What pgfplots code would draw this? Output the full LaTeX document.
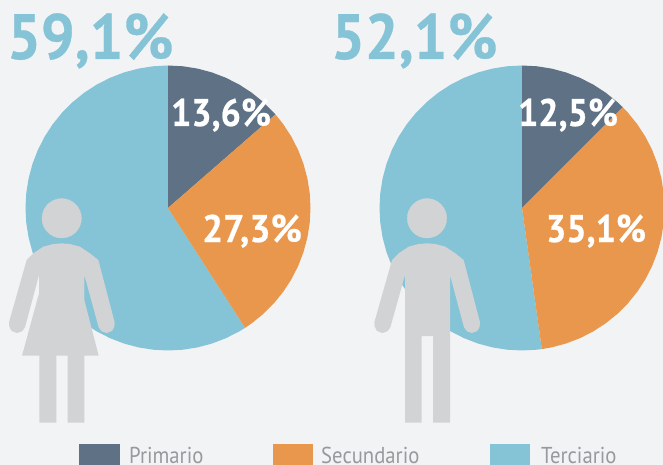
\documentclass[border=0pt]{standalone}
\usepackage{fontspec}
\setmainfont{PT Sans}
\newfontfamily\bigcond[FakeStretch=0.93,FakeBold=0.5]{PT Sans}
\newfontfamily\labcond[FakeStretch=0.93,FakeBold=0.5]{PT Sans}
\newfontfamily\labwide[FakeStretch=0.97,FakeBold=0.5]{PT Sans}
\newfontfamily\legcond[FakeStretch=0.9]{PT Sans}
\usepackage{pgfplots}
\usepackage{pgfplotstable}
\pgfplotsset{compat=1.18}
\definecolor{bg}{HTML}{F2F3F5}
\definecolor{prim}{HTML}{5F7285}
\definecolor{sec}{HTML}{E9974C}
\definecolor{ter}{HTML}{85C3D7}
\definecolor{fig}{HTML}{D1D3D4}
\definecolor{legtxt}{HTML}{97999C}
\pgfplotsset{
  canvas/.style={scale only axis, width=663pt, height=465pt, hide axis, clip=false},
}
% outlines of the figures, in 3x crop units
\pgfplotstableread{
x y
80 210
100 190
130 170
160 162
185 160
210 162
240 170
270 190
295 210
344 397
343 410
336 423
320 429
305 424
296 412
253 255
253 330
296 497
253 497
253 698
203 698
203 497
169 497
169 698
118 698
118 497
66 497
117 310
117 255
75 412
66 424
51 429
35 423
28 410
27 397
}\woman
\pgfplotstableread{
x y
81 210
101 190
131 170
161 162
186 160
211 162
241 170
271 190
296 210
345 397
344 410
337 423
321 429
306 424
297 412
255 255
255 698
204 698
204 438
170 438
170 698
120 698
120 255
76 412
67 424
52 429
36 423
29 410
28 397
}\man
\begin{document}
\begin{tikzpicture}
\clip (0,0) rectangle (663pt,465pt);
\fill[bg] (0,0) rectangle (663pt,465pt);
% left pie: 13,6 / 27,3 / 59,1
\begin{axis}[canvas, xmin=-168, xmax=495, ymin=-257, ymax=208]
\addplot[fill=ter, draw=none, data cs=polar] coordinates {(0,0)(-57.24,142.5)(-60,142.5)(-66,142.5)(-72,142.5)(-78,142.5)(-84,142.5)(-90,142.5)(-96,142.5)(-102,142.5)(-108,142.5)(-114,142.5)(-120,142.5)(-126,142.5)(-132,142.5)(-138,142.5)(-144,142.5)(-150,142.5)(-156,142.5)(-162,142.5)(-168,142.5)(-174,142.5)(-180,142.5)(-186,142.5)(-192,142.5)(-198,142.5)(-204,142.5)(-210,142.5)(-216,142.5)(-222,142.5)(-228,142.5)(-234,142.5)(-240,142.5)(-246,142.5)(-252,142.5)(-258,142.5)(-264,142.5)(-270,142.5)} -- cycle;
\addplot[fill=prim, draw=none, data cs=polar] coordinates {(0,0)(90,142.5)(84,142.5)(78,142.5)(72,142.5)(66,142.5)(60,142.5)(54,142.5)(48,142.5)(41.04,142.5)} -- cycle;
\addplot[fill=sec, draw=none, data cs=polar] coordinates {(0,0)(41.04,142.5)(36,142.5)(30,142.5)(24,142.5)(18,142.5)(12,142.5)(6,142.5)(0,142.5)(-6,142.5)(-12,142.5)(-18,142.5)(-24,142.5)(-30,142.5)(-36,142.5)(-42,142.5)(-48,142.5)(-54,142.5)(-57.24,142.5)} -- cycle;
\end{axis}
% right pie: 12,5 / 35,1 / 52,1 (sums to 99,7, blue keeps its share)
\begin{axis}[canvas, xmin=-522, xmax=141, ymin=-257, ymax=208]
\addplot[fill=ter, draw=none, data cs=polar] coordinates {(0,0)(-82,142.5)(-84,142.5)(-90,142.5)(-96,142.5)(-102,142.5)(-108,142.5)(-114,142.5)(-120,142.5)(-126,142.5)(-132,142.5)(-138,142.5)(-144,142.5)(-150,142.5)(-156,142.5)(-162,142.5)(-168,142.5)(-174,142.5)(-180,142.5)(-186,142.5)(-192,142.5)(-198,142.5)(-204,142.5)(-210,142.5)(-216,142.5)(-222,142.5)(-228,142.5)(-234,142.5)(-240,142.5)(-246,142.5)(-252,142.5)(-258,142.5)(-264,142.5)(-270,142.5)} -- cycle;
\addplot[fill=prim, draw=none, data cs=polar] coordinates {(0,0)(90,142.5)(84,142.5)(78,142.5)(72,142.5)(66,142.5)(60,142.5)(54,142.5)(48,142.5)(45,142.5)} -- cycle;
\addplot[fill=sec, draw=none, data cs=polar] coordinates {(0,0)(45,142.5)(42,142.5)(36,142.5)(30,142.5)(24,142.5)(18,142.5)(12,142.5)(6,142.5)(0,142.5)(-6,142.5)(-12,142.5)(-18,142.5)(-24,142.5)(-30,142.5)(-36,142.5)(-42,142.5)(-48,142.5)(-54,142.5)(-60,142.5)(-66,142.5)(-72,142.5)(-78,142.5)(-82,142.5)} -- cycle;
\end{axis}
% figures, legend and texts in pixel coordinates
\begin{axis}[canvas, xmin=0, xmax=663, ymin=0, ymax=465, y dir=reverse]
\addplot[fill=fig, draw=none] table[x expr=\thisrow{x}/3, y expr=190+\thisrow{y}/3] {\woman} -- cycle;
\addplot[fill=fig, draw=none] table[x expr=365+\thisrow{x}/3, y expr=190+\thisrow{y}/3] {\man} -- cycle;
\addplot[only marks, mark=*, mark size=19.7pt, fig, mark options={draw=none, fill=fig}] coordinates {(61.7,218.3)(427,218.3)};
\addplot[fill=prim, draw=none] coordinates {(79,444)(120,444)(120,465)(79,465)} -- cycle;
\addplot[fill=sec, draw=none] coordinates {(273,444)(313,444)(313,465)(273,465)} -- cycle;
\addplot[fill=ter, draw=none] coordinates {(490,444)(530,444)(530,465)(490,465)} -- cycle;
\node[anchor=base west, ter, font=\bigcond\fontsize{64}{64}\selectfont\bfseries, inner sep=0pt] at (axis cs:7,59) {59,1\%};
\node[anchor=base west, ter, font=\bigcond\fontsize{64}{64}\selectfont\bfseries, inner sep=0pt] at (axis cs:331,59) {52,1\%};
\node[anchor=base, white, font=\labcond\fontsize{38.5}{38.5}\selectfont\bfseries, inner sep=0pt] at (axis cs:221,126) {13,6\%};
\node[anchor=base, white, font=\labwide\fontsize{38.5}{38.5}\selectfont\bfseries, inner sep=0pt] at (axis cs:252,242) {27,3\%};
\node[anchor=base, white, font=\labcond\fontsize{38.5}{38.5}\selectfont\bfseries, inner sep=0pt] at (axis cs:568,126) {12,5\%};
\node[anchor=base, white, font=\labcond\fontsize{38.5}{38.5}\selectfont\bfseries, inner sep=0pt] at (axis cs:596,242) {35,1\%};
\node[anchor=base west, legtxt, font=\legcond\fontsize{23}{23}\selectfont, inner sep=0pt] at (axis cs:129,463) {Primario};
\node[anchor=base west, legtxt, font=\legcond\fontsize{23}{23}\selectfont, inner sep=0pt] at (axis cs:321,463) {Secundario};
\node[anchor=base west, legtxt, font=\legcond\fontsize{23}{23}\selectfont, inner sep=0pt] at (axis cs:541,463) {Terciario};
\end{axis}
\end{tikzpicture}
\end{document}
